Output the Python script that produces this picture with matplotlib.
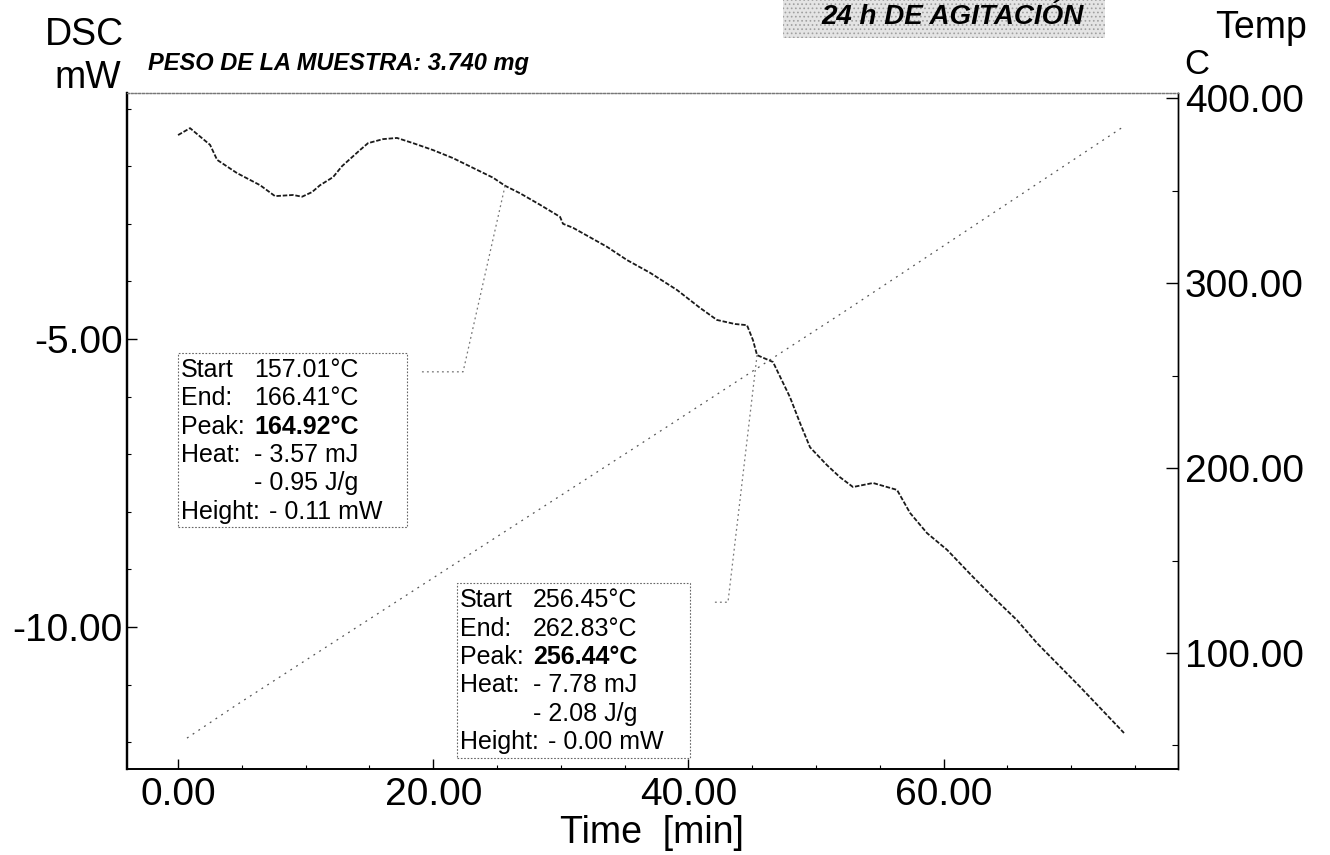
import matplotlib
matplotlib.use("Agg")
import matplotlib.pyplot as plt
from matplotlib.patches import Rectangle
from matplotlib.ticker import MultipleLocator
from matplotlib import transforms

plt.rcParams['font.family'] = ['Liberation Sans', 'DejaVu Sans']
plt.rcParams['hatch.linewidth'] = 0.7

# DSC signal (mW) vs time (min)
time_dsc = [0.0, 0.94, 2.51, 3.06, 4.62, 6.43, 7.60, 9.01, 9.72, 10.50, 11.13,
            12.15, 12.85, 14.26, 14.89, 16.07, 17.16, 18.42, 19.98, 21.55,
            23.12, 24.69, 25.63, 26.80, 28.37, 29.94, 30.17, 30.96, 33.62,
            35.19, 36.99, 39.11, 40.91, 42.24, 43.65, 44.59, 45.06, 45.38,
            46.63, 47.96, 48.75, 49.53, 50.86, 51.88, 52.90, 54.47, 56.35,
            57.37, 58.70, 60.27, 62.30, 63.87, 65.75, 67.32, 70.70, 74.14]
dsc_mw = [-1.46, -1.34, -1.63, -1.89, -2.12, -2.33, -2.52, -2.50, -2.53, -2.45,
          -2.33, -2.19, -2.00, -1.72, -1.60, -1.53, -1.51, -1.60, -1.72, -1.86,
          -2.03, -2.20, -2.34, -2.47, -2.67, -2.88, -3.00, -3.07, -3.40,
          -3.63, -3.85, -4.15, -4.46, -4.67, -4.74, -4.76, -5.02, -5.28,
          -5.40, -6.01, -6.46, -6.88, -7.19, -7.40, -7.57, -7.50, -7.62,
          -8.02, -8.37, -8.66, -9.13, -9.48, -9.88, -10.28, -11.04, -11.84]

# programme temperature (C) vs time (min)
time_temp = [0.7, 4.6, 35.8, 52.1, 74.2]
temp_c = [54, 72, 211, 284, 385]

# peak marker lines
peak1_t = [25.63, 22.34, 18.97]
peak1_mw = [-2.34, -5.57, -5.57]
peak2_t = [45.38, 43.10, 41.93]
peak2_mw = [-5.28, -9.57, -9.57]

peak1_labels = ["Start", "End:", "Peak:", "Heat:", "", "Height:"]
peak1_values = ["157.01°C", "166.41°C", "164.92°C", "- 3.57 mJ", "- 0.95 J/g", "- 0.11 mW"]
peak2_labels = ["Start", "End:", "Peak:", "Heat:", "", "Height:"]
peak2_values = ["256.45°C", "262.83°C", "256.44°C", "- 7.78 mJ", "- 2.08 J/g", "- 0.00 mW"]

x_ticks = [0, 20, 40, 60]
dsc_ticks = [-5, -10]
temp_ticks = [100, 200, 300, 400]

fig = plt.figure(figsize=(13.3, 8.55), dpi=100)
ax = fig.add_axes([0.0955, 0.1006, 0.7902, 0.7906])
ax2 = ax.twinx()

ax.plot(time_dsc, dsc_mw, color='#1a1a1a', lw=1.3, ls=(0, (2.5, 1)))
ax.plot(peak1_t, peak1_mw, color='#777777', lw=0.9, ls=(0, (1.5, 2.5)))
ax.plot(peak2_t, peak2_mw, color='#777777', lw=0.9, ls=(0, (1.5, 2.5)))
ax2.plot(time_temp, temp_c, color='#555555', lw=0.9, ls=(0, (1.5, 4)))

ax.set_xlim(-4.0, 78.37)
ax.set_ylim(-12.465, -0.73)
ax2.set_ylim(37.3, 402.7)

ax.set_xticks(x_ticks)
ax.set_xticklabels([f"{v:.2f}" for v in x_ticks])
ax.xaxis.set_minor_locator(MultipleLocator(5))
ax.set_yticks(dsc_ticks)
ax.set_yticklabels([f"{v:.2f}" for v in dsc_ticks])
ax.yaxis.set_minor_locator(MultipleLocator(1))
ax2.set_yticks(temp_ticks)
ax2.set_yticklabels([f"{v:.2f}" for v in temp_ticks])
ax2.yaxis.set_minor_locator(MultipleLocator(50))

ax.tick_params(axis='both', which='major', direction='in', length=7, width=1,
               labelsize=28, colors='black')
ax.tick_params(axis='x', which='major', pad=6)
ax.tick_params(axis='y', which='major', pad=3)
ax.tick_params(axis='both', which='minor', direction='in', length=3, width=0.8)
ax2.tick_params(axis='y', which='major', direction='in', length=9, width=1,
                labelsize=28, pad=5)
ax2.tick_params(axis='y', which='minor', direction='in', length=4, width=0.8)

for a in (ax, ax2):
    a.spines['left'].set_linewidth(1.6)
    a.spines['bottom'].set_linewidth(1.2)
    a.spines['right'].set_linewidth(1.0)
    a.spines['top'].set_color('#777777')
    a.spines['top'].set_linewidth(0.9)
    a.spines['top'].set_linestyle((0, (1.5, 1.5)))


def result_box(t0, m0, w, h, labels, values):
    ax.add_patch(Rectangle((t0, m0 - h), w, h, fill=False, ec='#666666',
                           lw=0.8, ls=(0, (1.5, 1.5))))
    for i, (lab, val) in enumerate(zip(labels, values)):
        dy = -(17 + 28.4 * i)
        tr = transforms.offset_copy(ax.transData, fig=fig, x=3, y=dy, units='dots')
        ax.text(t0, m0, lab, transform=tr, ha='left', va='center', fontsize=18)
        vx = 91 if lab == "Height:" else 76
        tr = transforms.offset_copy(ax.transData, fig=fig, x=vx, y=dy, units='dots')
        ax.text(t0, m0, val, transform=tr, ha='left', va='center', fontsize=18,
                fontweight='bold' if lab == "Peak:" else 'normal')


result_box(0.0, -5.24, 17.95, 3.02, peak1_labels, peak1_values)
result_box(21.86, -9.24, 18.26, 3.04, peak2_labels, peak2_values)

# header
fig.patches.append(Rectangle((0.589, 0.9556), 0.242, 0.0444, transform=fig.transFigure,
                             facecolor='#e4e4e4', edgecolor='#a0a0a0', hatch='....', lw=0))
fig.text(0.7165, 0.980, "24 h DE AGITACIÓN", ha='center', va='center', fontsize=20,
         fontweight='bold', fontstyle='italic')
fig.text(0.111, 0.926, "PESO DE LA MUESTRA: 3.740 mg", ha='left', va='center',
         fontsize=17, fontweight='bold', fontstyle='italic')
fig.text(0.0632, 0.959, "DSC", ha='center', va='center', fontsize=27)
fig.text(0.066, 0.909, "mW", ha='center', va='center', fontsize=27)
fig.text(0.9135, 0.967, "Temp", ha='left', va='center', fontsize=27)
fig.text(0.900, 0.924, "C", ha='center', va='center', fontsize=25)
fig.text(0.490, 0.026, "Time  [min]", ha='center', va='center', fontsize=27)

fig.savefig("out.png", dpi=100)
